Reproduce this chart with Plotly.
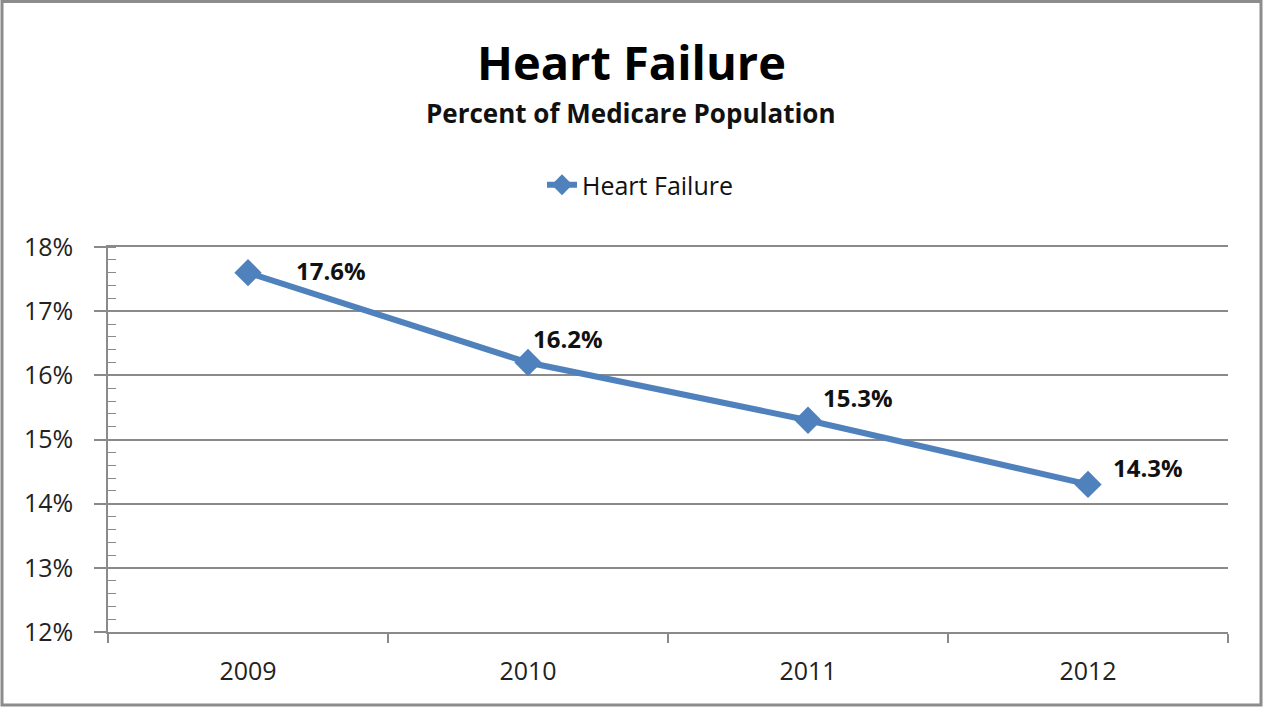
import plotly.graph_objects as go

years = ["2009", "2010", "2011", "2012"]
values = [0.176, 0.162, 0.153, 0.143]
y_ticks = [0.12, 0.13, 0.14, 0.15, 0.16, 0.17, 0.18]
title_text = "Heart Failure"
subtitle_text = "Percent of Medicare Population"
series_name = "Heart Failure"

# label offsets in pixels (x, y) relative to each point
label_dx = [83, 40, 50, 60]
label_dy = [2, 24, 23, 17]

W, H = 1265, 708
L, R, T, B = 108, 37, 247, 76
pw, ph = W - L - R, H - T - B
FONT = "Open Sans"

def px_x(p):
    return (p - L) / pw

def px_y(p):
    return (H - B - p) / ph

color = "#4F81BD"
grid = "#8a8a8a"

fig = go.Figure()
fig.add_trace(go.Scatter(
    x=list(range(len(years))), y=values,
    mode="lines+markers",
    name=series_name,
    line=dict(color=color, width=6),
    marker=dict(symbol="diamond", size=21, color=color),
    cliponaxis=False,
))

annotations = []
for i, v in enumerate(values):
    annotations.append(dict(
        x=i, y=v, xref="x", yref="y", text=f"<b>{v*100:.1f}%</b>",
        showarrow=False, xanchor="center", yanchor="middle",
        xshift=label_dx[i], yshift=label_dy[i],
        font=dict(family=FONT, size=24, color="#111111"),
    ))
annotations.append(dict(
    x=px_x(631), xref="paper", y=px_y(62), yref="paper", text=f"<b>{title_text}</b>",
    showarrow=False, xanchor="center", yanchor="middle",
    font=dict(family=FONT, size=47, color="#000000"),
))
annotations.append(dict(
    x=px_x(631), xref="paper", y=px_y(113), yref="paper", text=f"<b>{subtitle_text}</b>",
    showarrow=False, xanchor="center", yanchor="middle",
    font=dict(family=FONT, size=26, color="#111111"),
))

fig.update_layout(
    width=W, height=H,
    margin=dict(l=L, r=R, t=T, b=B),
    paper_bgcolor="white", plot_bgcolor="white",
    font=dict(family=FONT, color="#222222"),
    showlegend=True,
    legend=dict(
        orientation="h", x=px_x(640), xanchor="center", y=px_y(185), yanchor="middle",
        font=dict(family=FONT, size=25, color="#111111"),
    ),
    annotations=annotations,
    xaxis=dict(
        range=[-0.5, 3.5],
        tickmode="array", tickvals=list(range(len(years))), ticktext=years,
        showgrid=False, zeroline=False,
        showline=True, linecolor=grid, linewidth=1.5, mirror=True,
        tickfont=dict(family=FONT, size=25, color="#222222"),
        ticks="", ticklabelstandoff=16, fixedrange=True,
        minor=dict(tickmode="array", tickvals=[-0.5, 0.5, 1.5, 2.5, 3.5],
                   ticks="outside", ticklen=9, tickcolor=grid, tickwidth=1.5),
    ),
    yaxis=dict(
        range=[0.12, 0.18],
        tickmode="array", tickvals=y_ticks,
        tickformat=".0%",
        showgrid=True, gridcolor=grid, gridwidth=1.5,
        zeroline=False,
        showline=True, linecolor=grid, linewidth=1.5,
        ticks="outside", ticklen=12, tickcolor=grid, tickwidth=1.5,
        ticklabelstandoff=16, fixedrange=True,
        tickfont=dict(family=FONT, size=25, color="#222222"),
        minor=dict(dtick=0.002, ticks="inside", ticklen=8, tickcolor=grid,
                   tickwidth=1.2, showgrid=False),
    ),
    shapes=[dict(
        type="rect", xref="paper", yref="paper",
        x0=px_x(2), x1=px_x(1261), y0=px_y(705), y1=px_y(1.5),
        line=dict(color="#8c8c8c", width=3), fillcolor="rgba(0,0,0,0)",
        layer="below",
    )],
)

fig.write_html(
    "out.html",
    config={"displayModeBar": False},
    post_script="document.body.style.margin='0';document.body.style.overflow='hidden';",
)
